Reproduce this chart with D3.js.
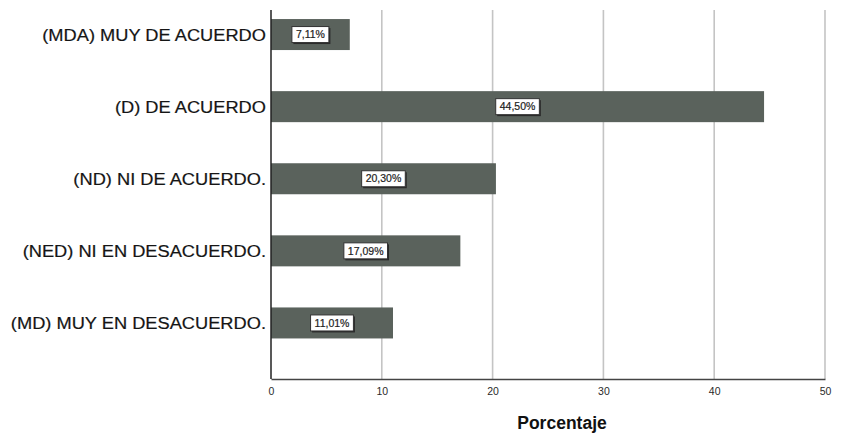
<!DOCTYPE html>
<html><head><meta charset="utf-8">
<script src="https://cdn.jsdelivr.net/npm/d3@7"></script>
<style>body{margin:0;background:#fff}svg{display:block}</style>
</head><body>
<svg id="c" width="846" height="433"></svg>
<script>
const categories = ["(MDA) MUY DE ACUERDO","(D) DE ACUERDO","(ND) NI DE ACUERDO.","(NED) NI EN DESACUERDO.","(MD) MUY EN DESACUERDO."];
const values = [7.11, 44.50, 20.30, 17.09, 11.01];
const valueLabels = ["7,11%","44,50%","20,30%","17,09%","11,01%"];
const xTicks = [0,10,20,30,40,50];
const xTitle = "Porcentaje";

const svg = d3.select("#c");
const x = d3.scaleLinear().domain([0,50]).range([271,825]);
const y = d3.scaleBand().domain(categories).range([-1.5,359]).paddingInner(0.57).paddingOuter(0.285);
const plotTop = 10, plotBottom = 379;

// gridlines
svg.append("g").selectAll("line").data(xTicks.filter(d=>d>0)).join("line")
  .attr("x1",d=>x(d)).attr("x2",d=>x(d)).attr("y1",plotTop).attr("y2",plotBottom)
  .attr("stroke","#c4c4c4").attr("stroke-width",1.6);

// bars
svg.append("g").selectAll("rect").data(values).join("rect")
  .attr("x",x(0)).attr("y",(d,i)=>y(categories[i]))
  .attr("width",d=>x(d)-x(0)).attr("height",y.bandwidth())
  .attr("fill","#5a625c");

// axes
const xAxis = d3.axisBottom(x).tickValues(xTicks).tickSize(0).tickPadding(9);
const gx = svg.append("g").attr("transform",`translate(0,${plotBottom})`).call(xAxis);
gx.select(".domain").attr("stroke","#444").attr("stroke-width",1.5);
gx.selectAll("text").attr("font-family","Liberation Sans, Arial, sans-serif").attr("font-size","10.5px").attr("fill","#2a2a2a");

const yAxis = d3.axisLeft(y).tickSize(0).tickPadding(5).tickFormat(()=>"");
const gy = svg.append("g").attr("transform",`translate(${x(0)},0)`).call(yAxis);
gy.select(".domain").attr("d",`M0,${plotTop}V${plotBottom}`).attr("stroke","#222").attr("stroke-width",1.5);

// category labels (slightly widened)
svg.append("g").selectAll("text").data(categories).join("text")
  .attr("transform",d=>`translate(266,${y(d)+y.bandwidth()/2+6}) scale(1.1,1)`)
  .attr("text-anchor","end")
  .attr("font-family","Liberation Sans, Arial, sans-serif")
  .attr("font-size","16.6px").attr("fill","#151515")
  .attr("stroke","#151515").attr("stroke-width",0.2)
  .text(d=>d);

// value labels
const lg = svg.append("g").selectAll("g").data(values).join("g")
  .attr("transform",(d,i)=>`translate(${(x(0)+x(d))/2},${y(categories[i])+y.bandwidth()/2})`);
lg.each(function(d,i){
  const g = d3.select(this);
  const t = g.append("text").attr("text-anchor","middle").attr("dy","0.35em")
    .attr("font-family","Liberation Sans, Arial, sans-serif").attr("font-size","10.5px")
    .attr("fill","#222").attr("stroke","#222").attr("stroke-width",0.2).text(valueLabels[i]);
  const w = t.node().getComputedTextLength();
  g.insert("rect","text").attr("x",-w/2-4+1.5).attr("y",-8+1.5).attr("width",w+8).attr("height",16).attr("fill","#2a2a2a");
  g.insert("rect","text").attr("x",-w/2-4).attr("y",-8).attr("width",w+8).attr("height",16)
    .attr("fill","#fff").attr("stroke","#333").attr("stroke-width",1);
});

// x title
svg.append("text").attr("x",562).attr("y",429).attr("text-anchor","middle")
  .attr("font-family","Liberation Sans, Arial, sans-serif").attr("font-size","17.5px").attr("font-weight","bold")
  .attr("fill","#111").text(xTitle);
</script>
</body></html>
